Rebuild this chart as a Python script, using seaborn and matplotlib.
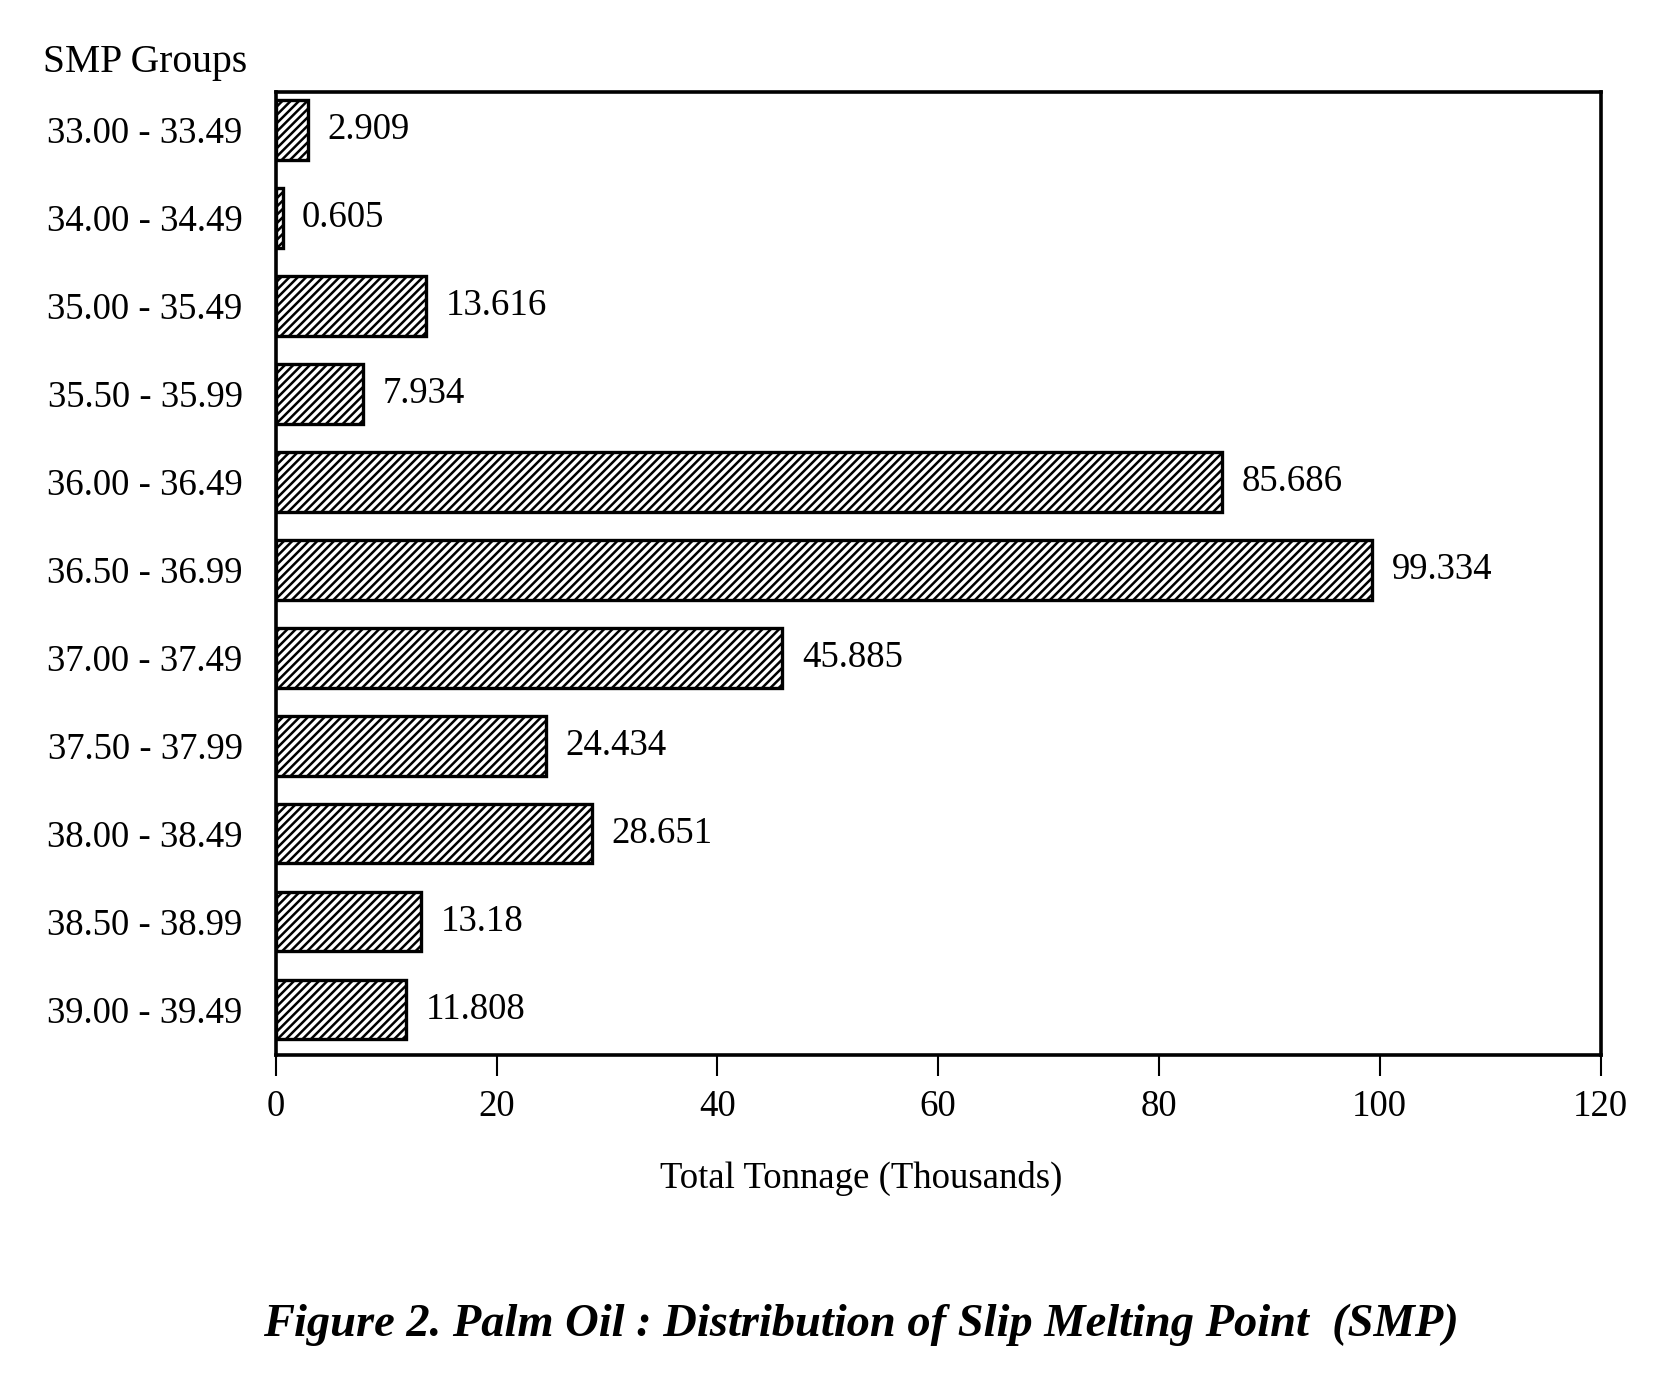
import pandas as pd
import seaborn as sns
from matplotlib import pyplot as plt

groups = ["33.00 - 33.49", "34.00 - 34.49", "35.00 - 35.49", "35.50 - 35.99",
          "36.00 - 36.49", "36.50 - 36.99", "37.00 - 37.49", "37.50 - 37.99",
          "38.00 - 38.49", "38.50 - 38.99", "39.00 - 39.49"]
tonnage = [2.909, 0.605, 13.616, 7.934, 85.686, 99.334, 45.885, 24.434,
           28.651, 13.18, 11.808]
value_labels = ["2.909", "0.605", "13.616", "7.934", "85.686", "99.334",
                "45.885", "24.434", "28.651", "13.18", "11.808"]
x_ticks = [0, 20, 40, 60, 80, 100, 120]

smp = pd.DataFrame({"SMP Group": groups, "Tonnage": tonnage})

sns.set_style("ticks")
plt.rcParams["font.family"] = ["Liberation Serif", "DejaVu Serif"]
plt.rcParams["hatch.linewidth"] = 1.8
plt.rcParams["hatch.color"] = "black"
for key in ["text.color", "axes.labelcolor", "xtick.color", "ytick.color"]:
    plt.rcParams[key] = "black"

fig = plt.figure(figsize=(16.62, 13.94), dpi=100)
ax = fig.add_axes([0.166, 0.243, 0.797, 0.691])

sns.barplot(data=smp, x="Tonnage", y="SMP Group", orient="h", ax=ax,
            color="white", saturation=1, edgecolor="black", linewidth=2.4,
            width=0.68)
for bar in ax.patches:
    bar.set_hatch("////")

ax.bar_label(ax.containers[0], labels=value_labels, padding=14, fontsize=26.5)

ax.set_xlim(0, 120)
ax.set_ylim(10.52, -0.43)
ax.set_xticks(x_ticks)
ax.set_xticklabels([str(t) for t in x_ticks], fontsize=26.5)
ax.tick_params(axis="x", length=15, width=1.5, pad=10)
ax.tick_params(axis="y", length=0, pad=24, labelsize=26.5)
ax.set_ylabel("")
ax.set_xlabel("Total Tonnage (Thousands)", fontsize=26.5, va="top")
ax.xaxis.set_label_coords(0.442, -0.110)
for side in ["top", "bottom", "left", "right"]:
    ax.spines[side].set_visible(True)
    ax.spines[side].set_linewidth(2.6)
    ax.spines[side].set_color("black")

fig.text(0.026, 0.955, "SMP Groups", fontsize=28.5, ha="left", va="center")
fig.text(0.518, 0.0495,
         "Figure 2. Palm Oil : Distribution of Slip Melting Point  (SMP)",
         fontsize=33.5, style="italic", weight="bold", ha="center", va="center")

fig.savefig("out.png", dpi=100)
